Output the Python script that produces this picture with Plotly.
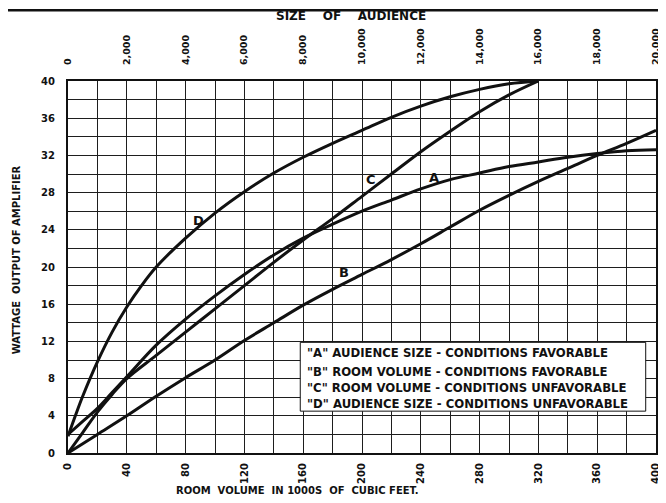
import plotly.graph_objects as go

# ---------------- data ----------------
# Curve A: audience size - favorable
a_x = [0, 10, 20, 30, 40, 60, 80, 100, 120, 140, 160, 180, 200, 220, 240, 260, 280, 300, 320, 340, 360, 380, 400]
a_y = [2.0, 3.4, 4.8, 6.5, 8.2, 11.6, 14.4, 16.9, 19.2, 21.3, 23.1, 24.6, 26.0, 27.2, 28.4, 29.4, 30.1, 30.8, 31.3, 31.8, 32.2, 32.5, 32.6]

# Curve B: room volume - favorable
b_x = [0, 20, 40, 60, 80, 100, 120, 140, 160, 180, 200, 220, 240, 260, 280, 300, 320, 340, 360, 380, 400]
b_y = [0.0, 2.0, 4.0, 6.1, 8.1, 10.0, 12.1, 14.0, 15.9, 17.6, 19.2, 20.8, 22.5, 24.3, 26.1, 27.7, 29.2, 30.6, 32.0, 33.3, 34.7]

# Curve C: room volume - unfavorable
c_x = [0, 10, 20, 30, 40, 60, 80, 100, 120, 140, 160, 180, 200, 220, 240, 260, 280, 300, 320]
c_y = [0.0, 2.2, 4.4, 6.3, 8.0, 10.5, 13.0, 15.5, 18.0, 20.5, 22.9, 25.2, 27.6, 30.0, 32.4, 34.6, 36.7, 38.5, 40.0]

# Curve D: audience size - unfavorable
d_x = [0, 5, 10, 20, 30, 40, 50, 60, 80, 100, 120, 140, 160, 180, 200, 220, 240, 260, 280, 300, 320]
d_y = [1.8, 4.0, 6.1, 9.8, 13.0, 15.7, 18.0, 20.0, 23.1, 25.8, 28.1, 30.1, 31.8, 33.3, 34.7, 36.1, 37.3, 38.3, 39.1, 39.7, 40.0]

curve_names = ["A", "B", "C", "D"]
curve_label_x = [249, 188, 206, 89]
curve_label_y = [29.6, 19.4, 29.4, 25.0]

legend_lines = [
    '"A" AUDIENCE SIZE - CONDITIONS FAVORABLE',
    '"B" ROOM VOLUME - CONDITIONS FAVORABLE',
    '"C" ROOM VOLUME - CONDITIONS UNFAVORABLE',
    '"D" AUDIENCE SIZE - CONDITIONS UNFAVORABLE',
]
legend_line_y = [10.75, 8.75, 6.95, 5.3]

x_tickvals = [0, 40, 80, 120, 160, 200, 240, 280, 320, 360, 400]
x_ticktext = ["0", "40", "80", "120", "160", "200", "240", "280", "320", "360", "400"]
y_tickvals = [0, 4, 8, 12, 16, 20, 24, 28, 32, 36, 40]
y_ticktext = ["0", "4", "8", "12", "16", "20", "24", "28", "32", "36", "40"]
top_tickvals = [0, 2000, 4000, 6000, 8000, 10000, 12000, 14000, 16000, 18000, 20000]
top_ticktext = ["0", "2,000", "4,000", "6,000", "8,000", "10,000", "12,000", "14,000", "16,000", "18,000", "20,000"]

FONT = "DejaVu Sans"
INK = "#111111"
GRID = "#1e1e1e"
NB = "\u00a0"

fig = go.Figure()
for xs, ys, nm in [(a_x, a_y, "A"), (b_x, b_y, "B"), (c_x, c_y, "C"), (d_x, d_y, "D")]:
    fig.add_trace(go.Scatter(x=xs, y=ys, mode="lines", name=nm,
                             line=dict(color=INK, width=3, shape="spline", smoothing=1.0),
                             showlegend=False, hoverinfo="skip"))

# invisible trace for the top (audience) axis
fig.add_trace(go.Scatter(x=[0, 20000], y=[0, 0], xaxis="x2", mode="markers",
                         marker=dict(opacity=0), showlegend=False, hoverinfo="skip"))

# legend box
fig.add_shape(type="rect", xref="x", yref="y", x0=158, x1=393, y0=4.5, y1=11.9,
              fillcolor="white", line=dict(color=INK, width=1), layer="above")
for txt, yy in zip(legend_lines, legend_line_y):
    fig.add_annotation(x=161, y=yy, xref="x", yref="y", text="<b>" + txt + "</b>",
                       showarrow=False, xanchor="left", yanchor="middle",
                       font=dict(family=FONT, size=11.7, color=INK))

for nm, lx, ly in zip(curve_names, curve_label_x, curve_label_y):
    fig.add_annotation(x=lx, y=ly, xref="x", yref="y", text="<b>" + nm + "</b>",
                       showarrow=False, font=dict(family=FONT, size=13, color=INK))

# axis titles
fig.add_annotation(x=0.482, y=1.175, xref="paper", yref="paper", xanchor="center", yanchor="middle",
                   text="<b>SIZE" + NB * 4 + "OF" + NB * 4 + "AUDIENCE</b>", showarrow=False,
                   font=dict(family=FONT, size=12, color=INK))
fig.add_annotation(x=0.391, y=-0.102, xref="paper", yref="paper", xanchor="center", yanchor="middle",
                   text="<b>ROOM" + NB * 2 + "VOLUME" + NB * 2 + "IN" + NB + "1000S" + NB * 2 + "OF"
                        + NB * 2 + "CUBIC" + NB + "FEET.</b>",
                   showarrow=False, font=dict(family=FONT, size=10, color=INK))
fig.add_annotation(x=-0.086, y=0.519, xref="paper", yref="paper", xanchor="center", yanchor="middle",
                   text="<b>WATTAGE" + NB * 2 + "OUTPUT" + NB + "OF" + NB + "AMPLIFIER</b>",
                   textangle=-90, showarrow=False, font=dict(family=FONT, size=10, color=INK))

# scan frame line on top
fig.add_shape(type="line", xref="paper", yref="paper", x0=-0.12, x1=1.01, y0=1.19, y1=1.19,
              line=dict(color=INK, width=2.5))

fig.update_layout(
    width=658, height=495,
    margin=dict(l=60, r=5, t=73, b=50),
    paper_bgcolor="white", plot_bgcolor="white",
    font=dict(family=FONT, color=INK),
    xaxis=dict(range=[0, 400], tickvals=x_tickvals, ticktext=["<b>%s</b>" % t for t in x_ticktext],
               tickangle=-90, tickfont=dict(size=10, family=FONT, color=INK),
               showline=True, linecolor=INK, linewidth=2, mirror=True,
               zeroline=False, ticks="", ticklabelstandoff=4,
               showgrid=True, gridcolor=GRID, gridwidth=1.4,
               minor=dict(dtick=20, showgrid=True, gridcolor=GRID, gridwidth=1.4)),
    yaxis=dict(range=[0, 40], tickvals=y_tickvals, ticktext=["<b>%s</b>" % t for t in y_ticktext],
               tickfont=dict(size=10, family=FONT, color=INK),
               showline=True, linecolor=INK, linewidth=2, mirror=True,
               zeroline=False, ticks="", ticklabelstandoff=9,
               showgrid=True, gridcolor=GRID, gridwidth=1.4,
               minor=dict(dtick=2, showgrid=True, gridcolor=GRID, gridwidth=1.4)),
    xaxis2=dict(range=[0, 20000], overlaying="x", side="top", tickvals=top_tickvals,
                ticktext=["<b>%s</b>" % t for t in top_ticktext], tickangle=-90,
                tickfont=dict(size=9.5, family=FONT, color=INK),
                showgrid=False, zeroline=False, ticks="", ticklabelstandoff=15),
)

fig.write_html("out.html")
